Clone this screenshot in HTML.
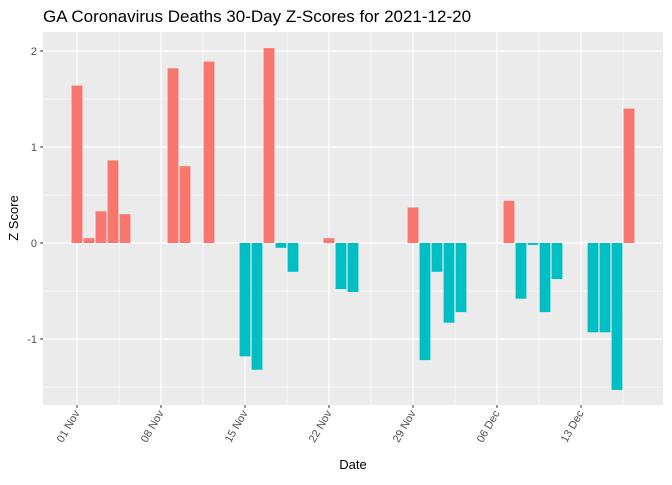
<!DOCTYPE html>
<html><head><meta charset="utf-8"><style>
body{margin:0;background:#fff;font-family:"Liberation Sans",sans-serif}
</style></head><body>
<svg id="chart" width="672" height="480" xmlns="http://www.w3.org/2000/svg" font-family="Liberation Sans, sans-serif">
<text x="43" y="22" font-size="17" fill="#000">GA Coronavirus Deaths 30-Day Z-Scores for 2021-12-20</text>
<rect x="43" y="32" width="620" height="373" fill="#EBEBEB"/>
<g id="grid"></g><g id="bars"></g><g id="axes"></g>
<text x="353" y="469" font-size="13" text-anchor="middle" fill="#000">Date</text>
<text transform="translate(18,218) rotate(-90)" font-size="13" text-anchor="middle" fill="#000">Z Score</text>
</svg>
<script>
const dayIndex=[0,1,2,3,4,8,9,11,14,15,16,17,18,21,22,23,28,29,30,31,32,36,37,38,39,40,43,44,45,46];
const zScores=[1.64,0.05,0.33,0.86,0.30,1.82,0.80,1.89,-1.18,-1.32,2.03,-0.05,-0.30,0.05,-0.48,-0.51,0.37,-1.22,-0.30,-0.83,-0.72,0.44,-0.58,-0.02,-0.72,-0.375,-0.93,-0.93,-1.53,1.40];
const tickDays=[0,7,14,21,28,35,42];
const tickLabels=["01 Nov","08 Nov","15 Nov","22 Nov","29 Nov","06 Dec","13 Dec"];
const yTicks=[-1,0,1,2];
const NS="http://www.w3.org/2000/svg";
const x=d=>77+12*d;
const y=v=>243-96*v;
function mk(tag,attrs,parent){const e=document.createElementNS(NS,tag);for(const k in attrs)e.setAttribute(k,attrs[k]);parent.appendChild(e);return e;}
const grid=document.getElementById('grid'),bars=document.getElementById('bars'),axes=document.getElementById('axes');
// minor horizontal
for(const v of [-1.5,-0.5,0.5,1.5]){const l=mk('line',{x1:43,x2:663,y1:y(v),y2:y(v),stroke:'#fff','stroke-width':0.6},grid);

}
for(let i=0;i<tickDays.length;i++){const xm=x(tickDays[i]-3.5);const l=mk('line',{x1:xm,x2:xm,y1:32,y2:405,stroke:'#fff','stroke-width':0.6},grid);

}
{const xm=x(tickDays[tickDays.length-1]+3.5);const l=mk('line',{x1:xm,x2:xm,y1:32,y2:405,stroke:'#fff','stroke-width':0.6},grid);

}
for(const v of yTicks){const l=mk('line',{x1:43,x2:663,y1:y(v),y2:y(v),stroke:'#fff','stroke-width':1.2},grid);


const t=mk('line',{x1:40,x2:43,y1:y(v),y2:y(v),stroke:'#333','stroke-width':1},axes);


const tx=mk('text',{x:37,y:y(v)+4,'font-size':11,'text-anchor':'end',fill:'#4D4D4D'},axes);tx.textContent=v;

}
for(let i=0;i<tickDays.length;i++){const xv=x(tickDays[i]);const l=mk('line',{x1:xv,x2:xv,y1:32,y2:405,stroke:'#fff','stroke-width':1.2},grid);


const t=mk('line',{x1:xv,x2:xv,y1:405,y2:408,stroke:'#333','stroke-width':1},axes);


const tx=mk('text',{transform:`translate(${xv+3},${413}) rotate(-60)`,'font-size':11,'text-anchor':'end',fill:'#4D4D4D'},axes);tx.textContent=tickLabels[i];

}
for(let i=0;i<dayIndex.length;i++){const v=zScores[i];const y0=y(Math.max(v,0)),y1=y(Math.min(v,0));
const r=mk('rect',{x:x(dayIndex[i])-5.4,y:y0,width:10.8,height:Math.max(y1-y0,0.5),fill:v>=0?'#F8766D':'#00BFC4'},bars);

}
</script>
</body></html>
